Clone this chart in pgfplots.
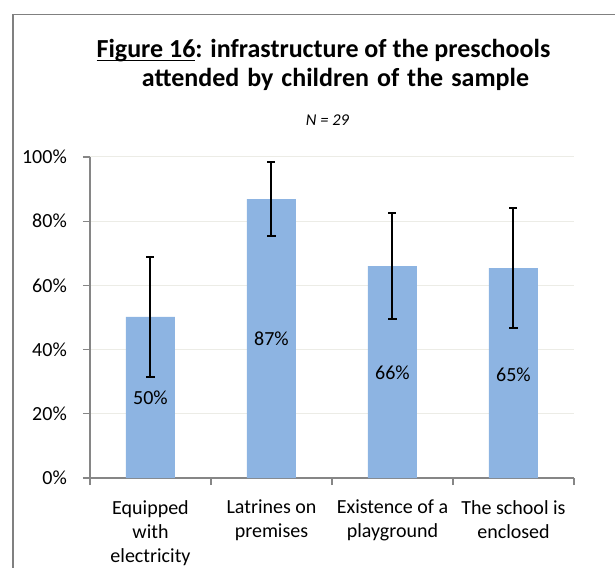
\documentclass[border=0pt]{standalone}
\usepackage{fontspec}
\setmainfont{Carlito}
\usepackage{pgfplots}
\pgfplotsset{compat=1.18}
\definecolor{barblue}{RGB}{141,180,226}
\definecolor{gridc}{RGB}{236,236,230}
\definecolor{axisc}{RGB}{134,134,134}
\definecolor{framec}{RGB}{128,128,128}
\begin{document}
\begin{tikzpicture}
\begin{axis}[
  at={(0,0)}, anchor=south west, scale only axis,
  width=484bp, height=321bp,
  xmin=-0.5, xmax=3.5, ymin=0, ymax=100,
  axis lines*=left,
  axis line style={axisc, line width=1.3bp},
  tick align=outside,
  ytick={0,20,40,60,80,100},
  yticklabels={0\%,20\%,40\%,60\%,80\%,100\%},
  ymajorgrids, major grid style={gridc, line width=1bp},
  major tick length=7bp, minor tick length=7bp,
  every tick/.style={axisc, line width=1.3bp},
  xtick={0,1,2,3},
  xticklabels={{Equipped\\with\\electricity},{Latrines on\\premises},{Existence of a\\playground},{The school is\\enclosed}},
  major x tick style={draw=none},
  minor xtick={-0.5,0.5,1.5,2.5,3.5},
  ticklabel style={font=\fontsize{20bp}{24bp}\selectfont, inner sep=0},
  xticklabel style={align=center, anchor=north, yshift=-15bp},
  yticklabel style={anchor=east, xshift=-16bp},
  clip=false,
]
\addplot[ybar, fill=barblue, draw=none, bar width=49bp,
  error bars/.cd, y dir=both, y explicit, error mark=-,
  error bar style={solid, black, line width=2bp},
  error mark options={rotate=90, black, line width=2bp, mark size=4bp}]
  coordinates {
  (0,50.2) +- (0,18.7)
  (1,86.9) +- (0,11.4)
  (2,66.0) +- (0,16.6)
  (3,65.4) +- (0,18.8)
  };
\addplot[only marks, mark=none, point meta=explicit symbolic, nodes near coords,
  every node near coord/.style={anchor=center, inner sep=0, font=\fontsize{20bp}{24bp}\selectfont}]
  coordinates {
  (0,25.0) [50\%]
  (1,43.3) [87\%]
  (2,32.9) [66\%]
  (3,32.2) [65\%]
  };
\end{axis}
\draw[framec, line width=2.3bp] (-77bp,-95bp) -- (-77bp,463.5bp);
\draw[framec, line width=1.3bp] (-78bp,463.5bp) -- (530bp,463.5bp);
\node[anchor=base, inner sep=0, font=\fontsize{26bp}{31bp}\selectfont\bfseries] at (233.5bp,420bp)
  {\setbox0\hbox{Figure 16}\rlap{\rule[-3.5bp]{\wd0}{1.8bp}}\box0: infrastructure of the preschools};
\node[anchor=base, inner sep=0, font=\fontsize{26bp}{31bp}\selectfont\bfseries] at (245.5bp,391bp)
  {\spaceskip=8bp attended by children of the sample};
\node[anchor=base, inner sep=0, font=\fontsize{16.5bp}{20bp}\selectfont\itshape] at (237.5bp,352bp)
  {N = 29};
\pgfresetboundingbox
\path[use as bounding box] (-90bp,-90bp) rectangle (525bp,478bp);
\end{tikzpicture}
\end{document}
